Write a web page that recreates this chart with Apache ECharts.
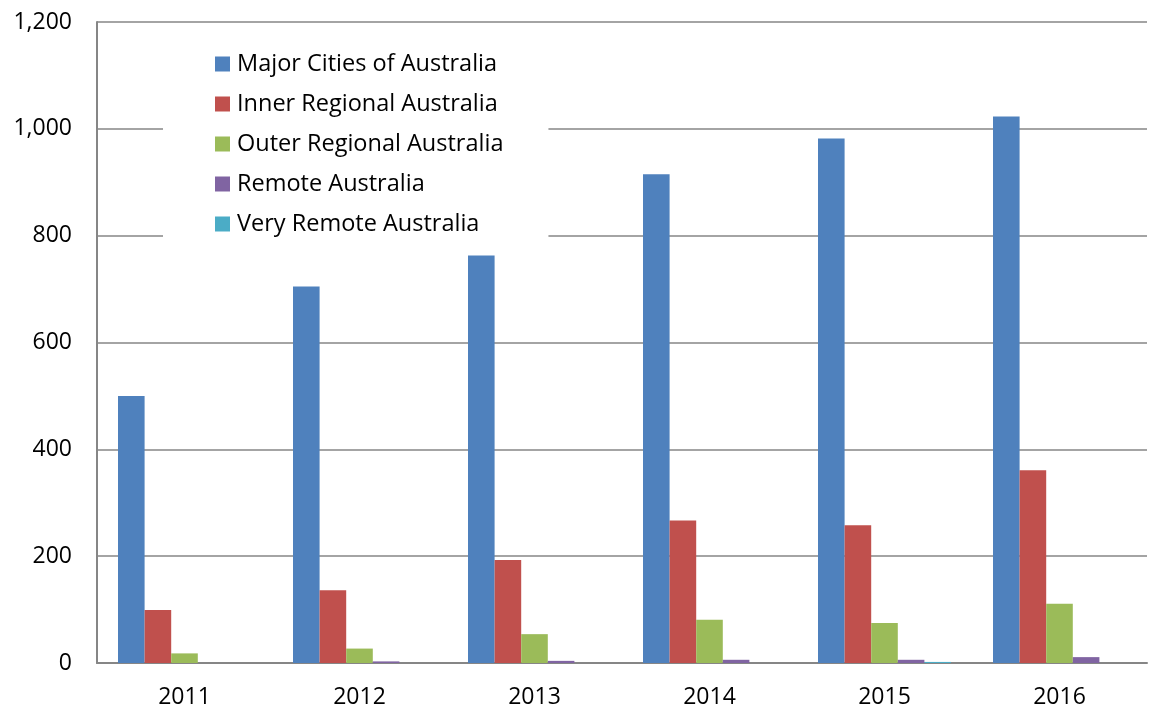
<!DOCTYPE html>
<html>
<head>
<meta charset="utf-8">
<script src="https://cdn.jsdelivr.net/npm/echarts@6/dist/echarts.min.js"></script>
<style>html,body{margin:0;padding:0;background:#fff;}#chart{width:1149px;height:709px;}</style>
</head>
<body>
<div id="chart"></div>
<script>
const years = ['2011', '2012', '2013', '2014', '2015', '2016'];
const seriesNames = ['Major Cities of Australia', 'Inner Regional Australia', 'Outer Regional Australia', 'Remote Australia', 'Very Remote Australia'];
const majorCities = [500, 705, 763, 915, 982, 1023];
const innerRegional = [99, 136, 193, 267, 258, 361];
const outerRegional = [18, 27, 54, 81, 75, 111];
const remote = [0, 3, 4, 6, 6, 11];
const veryRemote = [0, 0, 0, 0, 2, 0];
const yTicks = [0, 200, 400, 600, 800, 1000, 1200];
const colors = ['#4F81BD', '#C0504D', '#9BBB59', '#8064A2', '#4BACC6'];

const FONT = 'Open Sans';
const allData = [majorCities, innerRegional, outerRegional, remote, veryRemote];
const chart = echarts.init(document.getElementById('chart'));
chart.setOption({
  animation: false,
  backgroundColor: '#fff',
  textStyle: { fontFamily: FONT },
  grid: { left: 97, right: 2, top: 22, bottom: 45, containLabel: false },
  legend: {
    orient: 'vertical',
    left: 163,
    top: 40,
    backgroundColor: '#fff',
    padding: [12, 45, 14, 52],
    itemWidth: 15,
    itemHeight: 15,
    itemGap: 16,
    icon: 'rect',
    textStyle: { fontFamily: FONT, fontSize: 23.5, color: '#000', lineHeight: 23, padding: [0, 0, 0, 2] },
    data: seriesNames
  },
  xAxis: {
    type: 'category',
    data: years,
    axisLine: { lineStyle: { color: '#868686', width: 2 } },
    axisTick: { show: false },
    axisLabel: { fontFamily: FONT, fontSize: 23, color: '#000', margin: 23 }
  },
  yAxis: {
    type: 'value',
    min: yTicks[0],
    max: yTicks[yTicks.length - 1],
    interval: yTicks[1] - yTicks[0],
    axisLine: { show: true, lineStyle: { color: '#868686', width: 2 } },
    axisTick: { show: false },
    splitLine: { lineStyle: { color: '#868686', width: 1.5 } },
    axisLabel: {
      fontFamily: FONT, fontSize: 23, color: '#000', margin: 25,
      formatter: v => v.toLocaleString('en-US')
    }
  },
  series: seriesNames.map((name, i) => ({
    name: name,
    type: 'bar',
    data: allData[i],
    barGap: '0%',
    barCategoryGap: '24%',
    itemStyle: { color: colors[i] }
  }))
});
</script>
</body>
</html>
